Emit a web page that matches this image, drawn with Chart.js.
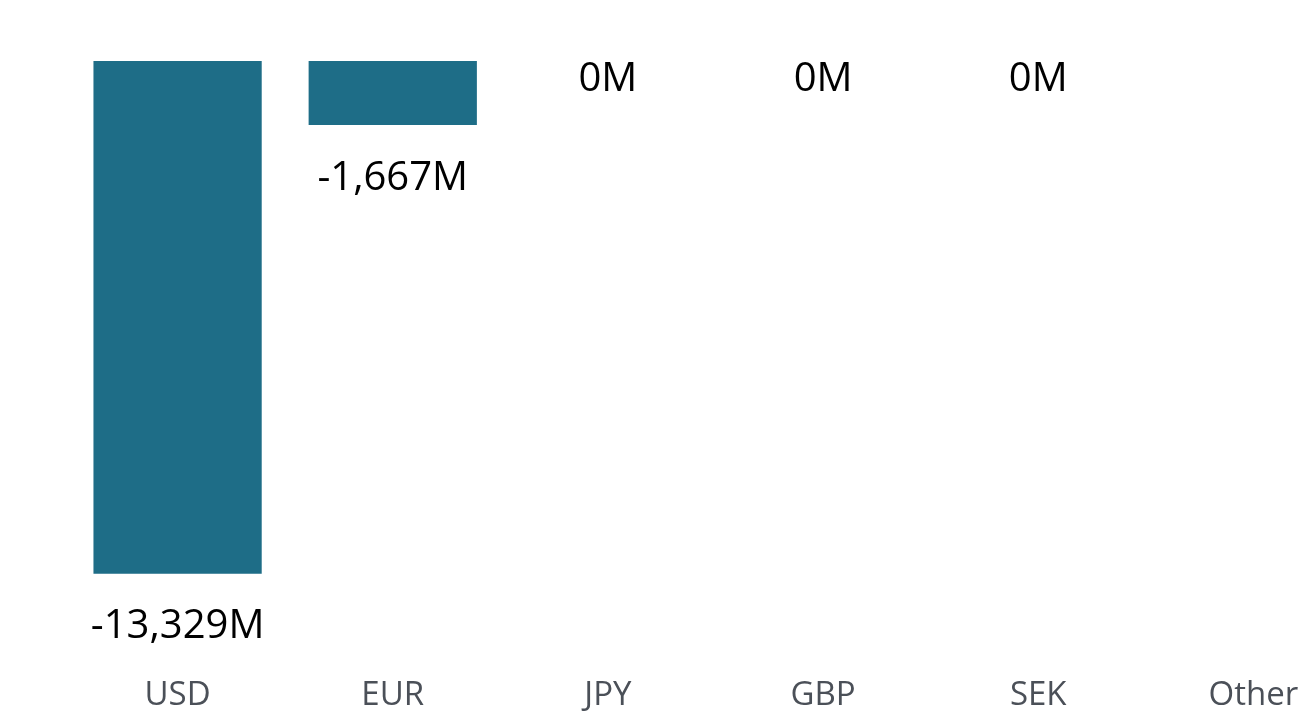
<!DOCTYPE html>
<html>
<head>
<meta charset="utf-8">
<script src="https://cdn.jsdelivr.net/npm/chart.js@4/dist/chart.umd.min.js"></script>
<style>
  html, body { margin: 0; padding: 0; background: #ffffff; overflow: hidden; }
  #wrap { position: relative; width: 1361px; height: 717px; }
</style>
</head>
<body>
<div id="wrap"><canvas id="c"></canvas></div>
<script>
const categories = ["USD", "EUR", "JPY", "GBP", "SEK", "Other"];
const values = [-13329, -1667, 0, 0, 0, null];
const yMin = -15713;
const yMax = 0;

function fmt(v) {
  return Math.round(v).toLocaleString('en-US') + 'M';
}

const labelPlugin = {
  id: 'barLabels',
  afterDatasetsDraw(chart) {
    const ctx = chart.ctx;
    const area = chart.chartArea;
    const meta = chart.getDatasetMeta(0);
    ctx.save();
    ctx.font = '40px "Open Sans"';
    ctx.fillStyle = '#000000';
    ctx.textAlign = 'center';
    ctx.textBaseline = 'middle';
    const h = 48;
    meta.data.forEach((bar, i) => {
      const v = values[i];
      if (v === null || v === undefined) return;
      const x = bar.x;
      let cy;
      if (v < 0) {
        cy = bar.y + 53;
      } else {
        cy = bar.y - 4 - h / 2;
      }
      // clamp within chart area
      if (cy - h / 2 < area.top) cy = area.top + h / 2 - 5;
      ctx.fillText(fmt(v), x, cy);
    });
    ctx.restore();
  }
};

new Chart(document.getElementById('c'), {
  type: 'bar',
  data: {
    labels: categories,
    datasets: [{
      data: values,
      backgroundColor: '#1e6d87',
      borderWidth: 0,
      barPercentage: 0.782,
      categoryPercentage: 1.0
    }]
  },
  options: {
    responsive: true,
    maintainAspectRatio: false,
    animation: false,
    layout: { padding: { left: 70, right: 0, top: 61, bottom: 0 } },
    plugins: {
      legend: { display: false },
      tooltip: { enabled: false }
    },
    scales: {
      x: {
        grid: { display: false },
        border: { display: false },
        ticks: {
          color: '#4b5058',
          font: { family: 'Open Sans', size: 33 },
          padding: 2,
          maxRotation: 0,
          autoSkip: false
        }
      },
      y: {
        display: false,
        min: yMin,
        max: yMax
      }
    }
  },
  plugins: [labelPlugin]
});
</script>
</body>
</html>
